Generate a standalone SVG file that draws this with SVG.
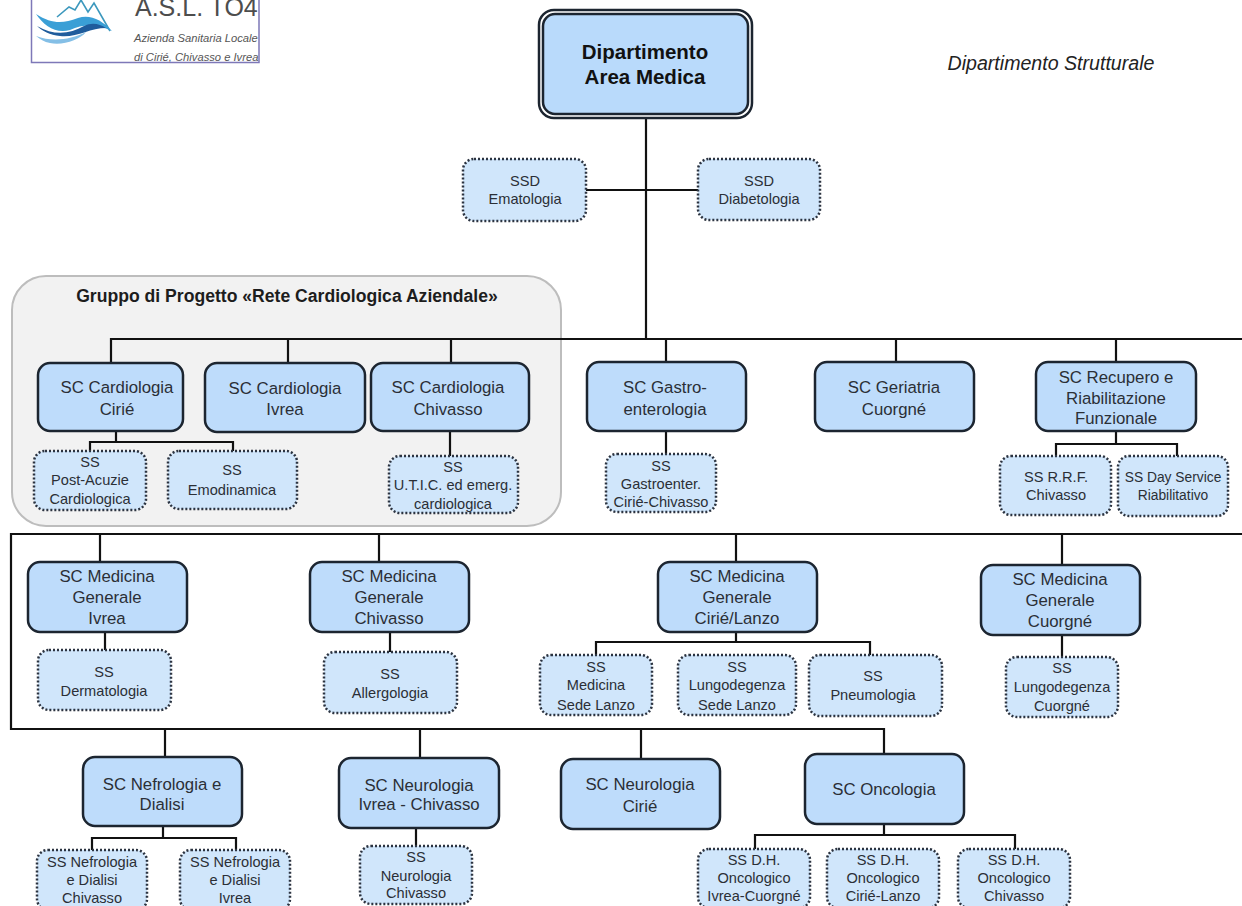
<svg xmlns="http://www.w3.org/2000/svg" width="1242" height="906" viewBox="0 0 1242 906">
<style>
text{font-family:"Liberation Sans",Arial,sans-serif;fill:#2b2f36;text-anchor:middle}
.sc rect{fill:#bedcfb;stroke:#1c2530;stroke-width:2.5}
.ss rect{fill:#d0e6fb;stroke:#2b3340;stroke-width:2.5;stroke-dasharray:2 2}
.sc text{font-size:16.8px}
.ss text{font-size:14.6px}
#connectors path{fill:none;stroke:#111;stroke-width:2.2}
</style>
<defs><clipPath id="lc"><rect x="31" y="0" width="228" height="62"/></clipPath></defs>
<rect width="1242" height="906" fill="#fff"/>
<g id="logo" clip-path="url(#lc)">
<path d="M57 17L69 7L75 10L81 0L88 12L94 3L110 31" fill="none" stroke="#3c98bd" stroke-width="1.6"/>
<path d="M36 14C52 24 62 24 78 18C90 14 102 20 112 31C96 24 84 24 70 30C56 34 44 26 36 14Z" fill="#3a9fd6"/>
<path d="M37 26C54 36 70 34 84 26C92 22 100 24 106 28C90 28 76 38 60 36C50 35 42 31 37 26Z" fill="#1f5c9c"/>
<path d="M36 36C52 42 70 40 86 32C80 40 62 46 50 43C44 42 40 39 36 36Z" fill="#84bfe6"/>
<text x="135" y="16" style="text-anchor:start;font-size:25px;fill:#4d4d4d">A.S.L. TO4</text>
<text x="134" y="42" style="text-anchor:start;font-size:11.2px;font-style:italic;fill:#555">Azienda Sanitaria Locale</text>
<text x="134" y="61" style="text-anchor:start;font-size:11.2px;font-style:italic;fill:#555">di Cirié, Chivasso e Ivrea</text>
</g>
<path d="M31.500 0V62.500H259V0" fill="none" stroke="#7e78b8" stroke-width="1.500"/>
<text x="1051" y="70" style="font-size:19.6px;font-style:italic;fill:#222">Dipartimento Strutturale</text>
<rect id="gruppo" x="12" y="276" width="549" height="250" rx="34" fill="#f2f2f2" stroke="#bdbdbd" stroke-width="2"/>
<text x="287" y="302" style="font-size:17.6px;font-weight:bold;fill:#1d1d1d">Gruppo di Progetto «Rete Cardiologica Aziendale»</text>
<g id="connectors">
<path d="M646 118V339M586 190H698M111 363V339H1242M288 339V363M451 339V363M666 339V362M896 339V362M1116 339V362"/>
<path d="M116 431V442M90 451V442H233V451M450 431V456M666 431V454M1116 431V444M1056 456V444H1177V456"/>
<path d="M1242 534H11V729H884V754M100 534V562M379 534V562M736 534V562M1062 534V565M165 729V757M420 729V758M641 729V759"/>
<path d="M105 632V650M390 632V652M736 632V642M596 655V642H870V655M1062 635V657"/>
<path d="M163 826V838M92 850V838H236V850M416 828V846M884 824V835M755 849V835H1015V849"/>
</g>
<g id="dip"><rect x="539" y="10" width="213" height="108" rx="15" fill="#fff" stroke="#1c2530" stroke-width="2.5"/><rect x="543" y="14" width="205" height="100" rx="12" fill="#b9dafb" stroke="#1c2530" stroke-width="2.500"/><text x="645" y="59" style="font-size:20.500px;font-weight:bold;fill:#111">Dipartimento</text><text x="645" y="84" style="font-size:20.500px;font-weight:bold;fill:#111">Area Medica</text></g>
<g id="ssd-ema" class="ss"><rect x="463" y="159" width="123" height="62" rx="11"/><text x="525" y="186">SSD</text><text x="525" y="204">Ematologia</text></g>
<g id="ssd-dia" class="ss"><rect x="698" y="159" width="122" height="61" rx="11"/><text x="759" y="186">SSD</text><text x="759" y="204">Diabetologia</text></g>
<g id="sc-car-cir" class="sc"><rect x="38" y="363" width="145" height="68" rx="12"/><text x="117" y="393">SC Cardiologia</text><text x="117" y="415">Cirié</text></g>
<g id="sc-car-ivr" class="sc"><rect x="205" y="363" width="160" height="69" rx="12"/><text x="285" y="394">SC Cardiologia</text><text x="285" y="415">Ivrea</text></g>
<g id="sc-car-chi" class="sc"><rect x="371" y="363" width="158" height="68" rx="12"/><text x="448" y="393">SC Cardiologia</text><text x="448" y="415">Chivasso</text></g>
<g id="sc-gas" class="sc"><rect x="587" y="362" width="159" height="69" rx="12"/><text x="665" y="393">SC Gastro-</text><text x="665" y="415">enterologia</text></g>
<g id="sc-ger" class="sc"><rect x="815" y="362" width="159" height="69" rx="12"/><text x="894" y="393">SC Geriatria</text><text x="894" y="415">Cuorgné</text></g>
<g id="sc-rec" class="sc"><rect x="1036" y="362" width="160" height="69" rx="12"/><text x="1116" y="383">SC Recupero e</text><text x="1116" y="404">Riabilitazione</text><text x="1116" y="424">Funzionale</text></g>
<g id="ss-post" class="ss"><rect x="34" y="451" width="112" height="59" rx="11"/><text x="90" y="467">SS</text><text x="90" y="485">Post-Acuzie</text><text x="90" y="504">Cardiologica</text></g>
<g id="ss-emo" class="ss"><rect x="168" y="451" width="129" height="58" rx="11"/><text x="232" y="475">SS</text><text x="232" y="495">Emodinamica</text></g>
<g id="ss-utic" class="ss"><rect x="389" y="456" width="129" height="57" rx="11"/><text x="453" y="472">SS</text><text x="453" y="490">U.T.I.C. ed emerg.</text><text x="453" y="509">cardiologica</text></g>
<g id="ss-gas" class="ss"><rect x="606" y="454" width="110" height="58" rx="11"/><text x="661" y="471">SS</text><text x="661" y="489">Gastroenter.</text><text x="661" y="507">Cirié-Chivasso</text></g>
<g id="ss-rrf" class="ss"><rect x="1000" y="456" width="111" height="59" rx="11"/><text x="1056" y="482">SS R.R.F.</text><text x="1056" y="500">Chivasso</text></g>
<g id="ss-day" class="ss"><rect x="1118" y="456" width="110" height="60" rx="11"/><text x="1173" y="482" style="font-size:13.800px">SS Day Service</text><text x="1173" y="500" style="font-size:13.800px">Riabilitativo</text></g>
<g id="sc-med-ivr" class="sc"><rect x="28" y="562" width="159" height="70" rx="12"/><text x="107" y="582">SC Medicina</text><text x="107" y="603">Generale</text><text x="107" y="624">Ivrea</text></g>
<g id="sc-med-chi" class="sc"><rect x="310" y="562" width="159" height="70" rx="12"/><text x="389" y="582">SC Medicina</text><text x="389" y="603">Generale</text><text x="389" y="624">Chivasso</text></g>
<g id="sc-med-cir" class="sc"><rect x="658" y="562" width="159" height="70" rx="12"/><text x="737" y="582">SC Medicina</text><text x="737" y="603">Generale</text><text x="737" y="624">Cirié/Lanzo</text></g>
<g id="sc-med-cuo" class="sc"><rect x="981" y="565" width="159" height="70" rx="12"/><text x="1060" y="585">SC Medicina</text><text x="1060" y="606">Generale</text><text x="1060" y="627">Cuorgné</text></g>
<g id="ss-der" class="ss"><rect x="38" y="650" width="133" height="60" rx="11"/><text x="104" y="677">SS</text><text x="104" y="696">Dermatologia</text></g>
<g id="ss-all" class="ss"><rect x="324" y="652" width="133" height="61" rx="11"/><text x="390" y="679">SS</text><text x="390" y="698">Allergologia</text></g>
<g id="ss-med" class="ss"><rect x="540" y="655" width="112" height="60" rx="11"/><text x="596" y="672">SS</text><text x="596" y="690">Medicina</text><text x="596" y="710">Sede Lanzo</text></g>
<g id="ss-lun" class="ss"><rect x="678" y="655" width="118" height="60" rx="11"/><text x="737" y="672">SS</text><text x="737" y="690">Lungodegenza</text><text x="737" y="710">Sede Lanzo</text></g>
<g id="ss-pne" class="ss"><rect x="809" y="655" width="133" height="61" rx="11"/><text x="873" y="681">SS</text><text x="873" y="700">Pneumologia</text></g>
<g id="ss-luc" class="ss"><rect x="1006" y="657" width="112" height="60" rx="11"/><text x="1062" y="673">SS</text><text x="1062" y="692">Lungodegenza</text><text x="1062" y="711">Cuorgné</text></g>
<g id="sc-nef" class="sc"><rect x="83" y="757" width="159" height="69" rx="12"/><text x="162" y="790">SC Nefrologia e</text><text x="162" y="810">Dialisi</text></g>
<g id="sc-neu-ivr" class="sc"><rect x="339" y="758" width="160" height="70" rx="12"/><text x="419" y="791">SC Neurologia</text><text x="419" y="810">Ivrea - Chivasso</text></g>
<g id="sc-neu-cir" class="sc"><rect x="561" y="759" width="159" height="70" rx="12"/><text x="640" y="790">SC Neurologia</text><text x="640" y="812">Cirié</text></g>
<g id="sc-onc" class="sc"><rect x="805" y="754" width="159" height="70" rx="12"/><text x="884" y="795">SC Oncologia</text></g>
<g id="ss-nef-chi" class="ss"><rect x="37" y="850" width="110" height="60" rx="11"/><text x="92" y="867">SS Nefrologia</text><text x="92" y="885">e Dialisi</text><text x="92" y="903">Chivasso</text></g>
<g id="ss-nef-ivr" class="ss"><rect x="180" y="850" width="110" height="60" rx="11"/><text x="235" y="867">SS Nefrologia</text><text x="235" y="885">e Dialisi</text><text x="235" y="903">Ivrea</text></g>
<g id="ss-neu" class="ss"><rect x="360" y="846" width="112" height="58" rx="11"/><text x="416" y="862">SS</text><text x="416" y="881">Neurologia</text><text x="416" y="898">Chivasso</text></g>
<g id="ss-onc-ivr" class="ss"><rect x="698" y="849" width="112" height="59" rx="11"/><text x="754" y="865">SS D.H.</text><text x="754" y="883">Oncologico</text><text x="754" y="901">Ivrea-Cuorgné</text></g>
<g id="ss-onc-cir" class="ss"><rect x="827" y="849" width="112" height="59" rx="11"/><text x="883" y="865">SS D.H.</text><text x="883" y="883">Oncologico</text><text x="883" y="901">Cirié-Lanzo</text></g>
<g id="ss-onc-chi" class="ss"><rect x="958" y="849" width="112" height="59" rx="11"/><text x="1014" y="865">SS D.H.</text><text x="1014" y="883">Oncologico</text><text x="1014" y="901">Chivasso</text></g>
</svg>
